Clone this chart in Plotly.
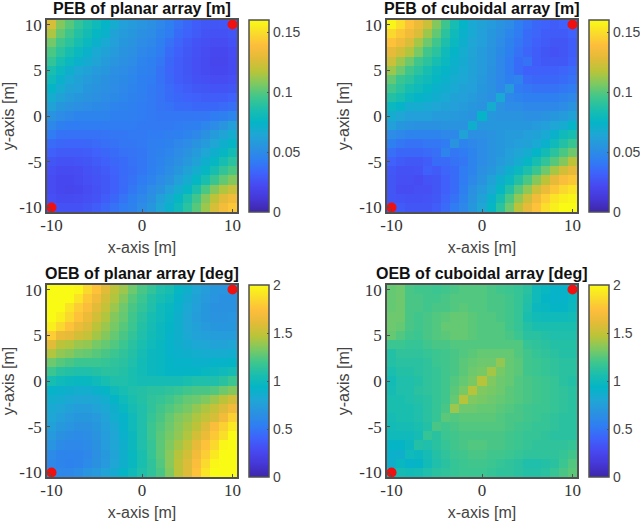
import plotly.graph_objects as go

grid = [-10,-9,-8,-7,-6,-5,-4,-3,-2,-1,0,1,2,3,4,5,6,7,8,9,10]
y_rows = [10,9,8,7,6,5,4,3,2,1,0,-1,-2,-3,-4,-5,-6,-7,-8,-9,-10]
anchors_x = [-10, 10]
anchors_y = [-10, 10]

# Values in 0.001 m, rows from y=10 to y=-10
peb_planar = [
[125,108,100,92,86,80,74,68,60,58,55,52,48,44,38,34,30,28,27,28,31],
[115,102,95,88,82,76,72,62,58,56,52,50,46,42,36,32,29,26,25,25,27],
[105,96,90,84,78,72,66,60,56,54,50,48,44,38,33,29,26,24,23,23,25],
[98,90,84,78,72,66,62,58,54,52,48,46,42,36,31,28,25,23,21,21,23],
[92,84,78,72,67,63,58,55,52,50,46,44,40,34,30,27,24,22,20,20,22],
[85,78,70,65,62,58,56,52,50,48,45,43,38,33,30,27,24,22,21,21,22],
[80,72,66,62,58,56,53,51,49,47,44,42,38,34,30,28,25,24,23,23,24],
[74,68,62,60,56,54,52,50,48,46,44,41,39,35,32,30,28,27,26,26,27],
[68,62,58,56,54,52,50,49,47,45,43,41,39,36,34,32,31,30,30,30,32],
[62,56,54,52,50,49,48,46,45,44,42,41,39,38,36,35,34,34,34,35,37],
[54,50,48,46,46,46,46,44,44,43,42,41,40,40,40,40,40,40,42,44,47],
[48,44,42,42,42,42,42,42,42,42,41,41,41,41,42,43,44,47,50,55,60],
[42,38,38,38,38,38,39,40,40,41,41,42,42,43,44,46,48,53,58,63,68],
[36,34,33,33,34,35,37,38,40,40,41,43,44,45,48,50,54,58,64,70,75],
[31,29,29,29,30,32,34,36,38,39,40,43,45,47,50,54,58,64,70,76,82],
[27,25,25,26,27,29,31,34,36,38,40,43,46,49,52,57,62,70,76,84,90],
[24,22,22,23,25,27,29,32,36,37,40,44,47,51,56,62,68,76,84,92,98],
[23,21,21,22,24,26,28,31,35,38,42,46,50,54,60,68,76,85,94,102,108],
[23,21,20,21,23,25,28,31,36,40,45,50,54,60,68,76,86,98,108,116,122],
[24,22,22,23,24,26,30,34,39,44,48,53,60,68,76,86,96,108,118,128,134],
[28,25,25,25,27,30,34,38,42,45,50,56,64,72,80,90,100,112,125,135,142],
]
peb_cuboidal = [
[158,150,140,132,122,108,95,84,74,66,62,58,54,50,44,38,34,32,30,32,36],
[148,142,134,126,112,102,90,80,72,66,60,56,52,47,42,36,33,30,29,29,32],
[140,134,126,114,104,96,86,78,70,64,60,55,50,45,40,35,31,29,27,27,30],
[130,124,116,106,96,90,80,74,68,63,58,54,49,44,38,33,30,27,25,27,30],
[122,112,104,96,90,84,78,72,67,62,58,54,48,42,36,38,30,28,28,28,31],
[112,104,96,90,84,78,74,70,66,62,58,53,48,42,36,31,31,31,31,33,35],
[102,94,90,84,80,76,72,68,65,61,57,52,48,44,46,35,34,34,34,36,38],
[96,90,84,80,76,72,69,66,62,60,56,53,48,58,42,40,38,38,38,40,42],
[88,84,78,74,72,69,66,62,60,58,55,52,66,48,46,44,44,44,44,46,48],
[78,74,68,68,66,64,62,60,58,56,54,68,54,50,50,48,48,48,48,50,54],
[68,64,60,60,60,58,58,57,56,54,74,56,54,54,54,52,52,54,56,58,62],
[60,56,54,53,53,53,54,54,54,70,56,56,56,56,56,56,58,60,64,68,74],
[50,48,46,46,46,46,48,48,62,52,52,54,56,58,58,60,62,66,72,80,84],
[44,40,38,38,40,40,42,54,46,48,50,54,56,58,60,62,66,72,80,88,94],
[37,34,34,34,35,37,46,40,42,46,50,54,56,60,64,68,74,82,90,98,104],
[32,29,28,28,30,36,35,38,40,46,50,54,58,62,68,76,84,92,100,108,118],
[28,25,25,26,31,29,33,36,42,46,52,56,62,70,78,86,94,104,114,124,130],
[27,24,24,23,26,27,31,36,42,48,54,62,70,78,88,98,108,118,130,138,142],
[27,23,23,24,24,27,31,36,44,52,58,66,76,88,100,110,122,132,142,148,152],
[27,26,25,25,26,28,33,38,46,54,62,72,84,98,110,122,134,144,152,156,158],
[29,29,27,27,27,30,35,42,48,56,64,76,90,104,118,130,140,150,156,160,160],
]
# Values in 0.01 deg
oeb_planar = [
[200,200,200,198,185,175,160,148,140,130,122,115,108,105,95,88,80,74,70,68,68],
[200,200,200,190,178,168,155,145,135,125,118,110,105,100,92,84,77,72,68,66,66],
[200,200,190,180,172,160,150,140,130,122,115,108,100,96,90,82,75,70,66,66,66],
[200,195,185,175,165,155,145,135,128,120,112,105,100,95,88,80,74,70,67,67,68],
[195,185,175,165,158,148,140,132,125,118,110,104,98,94,88,80,76,72,70,69,70],
[180,165,162,155,150,142,135,128,122,115,108,102,98,92,88,82,78,75,74,74,74],
[160,148,145,140,138,132,128,124,118,112,106,100,96,92,88,84,81,80,78,78,80],
[145,138,135,130,128,125,122,118,114,110,104,98,96,92,90,88,86,85,85,85,86],
[130,125,122,118,118,118,116,114,112,108,102,98,96,94,92,92,90,90,92,92,94],
[118,112,110,108,108,110,112,112,110,106,102,98,96,94,94,94,94,96,98,100,104],
[105,100,98,96,96,100,105,108,108,106,104,104,104,104,104,106,108,108,108,112,118],
[92,90,88,86,86,90,94,100,105,108,110,112,112,114,116,120,122,122,124,130,135],
[86,85,82,80,80,82,86,94,100,106,110,114,116,120,124,128,130,134,140,148,155],
[83,80,76,74,74,78,82,88,96,104,108,114,120,124,128,132,138,144,150,158,168],
[80,75,72,70,70,72,78,86,92,100,108,116,122,128,134,138,144,150,156,168,182],
[76,71,68,66,66,70,75,82,92,100,108,118,124,130,136,142,148,158,172,182,192],
[72,66,64,62,64,67,73,80,90,98,108,118,126,132,138,145,155,165,178,188,200],
[68,62,60,60,62,66,73,80,88,98,108,116,126,134,142,150,162,175,185,198,200],
[62,58,58,58,60,65,71,78,88,96,106,116,126,136,146,155,168,180,192,200,200],
[60,58,56,58,61,66,72,80,88,96,106,114,124,136,148,158,172,186,198,200,200],
[60,60,60,63,68,72,78,84,94,100,108,114,122,134,148,158,175,190,200,200,200],
]
oeb_cuboidal = [
[128,130,122,120,120,118,120,122,124,124,124,122,120,118,116,112,100,96,92,92,98],
[128,130,122,122,120,120,122,124,124,124,124,122,122,120,116,110,100,94,92,92,96],
[128,130,122,122,120,122,122,124,126,124,124,122,122,120,116,108,98,96,94,94,98],
[130,130,122,120,122,124,126,128,128,126,124,124,122,120,116,106,102,100,100,100,102],
[130,128,122,120,122,124,128,128,128,126,124,124,124,120,116,110,106,106,106,106,106],
[128,124,120,118,122,124,126,128,128,126,124,124,124,122,118,112,112,110,108,108,108],
[118,118,116,116,120,122,122,124,124,124,124,124,124,124,124,116,114,112,110,110,110],
[110,114,114,114,116,118,120,122,124,126,128,128,128,128,124,120,116,114,112,110,110],
[110,112,112,112,114,118,120,122,126,128,130,130,138,128,126,120,118,116,114,112,112],
[106,110,110,112,114,116,120,122,126,130,132,142,132,128,126,120,118,116,114,112,112],
[102,108,108,110,114,116,120,124,128,132,146,134,130,128,124,122,120,118,116,112,110],
[104,108,108,112,114,116,120,126,132,146,134,132,130,126,124,122,120,118,116,114,112],
[106,106,108,110,112,116,120,128,146,134,132,130,128,126,124,122,120,118,116,114,112],
[106,106,106,108,112,116,122,140,130,130,128,128,126,124,122,120,118,118,116,114,112],
[104,106,106,108,112,116,126,124,126,126,126,126,124,122,122,120,118,116,114,112,112],
[102,104,104,106,110,122,120,122,124,124,124,124,124,122,120,118,116,116,114,112,112],
[100,100,100,104,116,112,118,120,122,122,122,122,122,120,118,116,116,114,112,112,112],
[94,94,98,110,108,112,116,120,122,124,124,122,122,120,118,116,114,114,114,114,116],
[90,88,100,98,104,110,114,118,120,122,122,120,120,118,116,114,114,114,114,116,120],
[88,96,92,94,102,108,112,116,118,120,120,118,116,114,112,108,108,110,112,118,124],
[98,104,102,104,108,112,114,116,118,118,118,116,114,114,112,110,110,112,116,122,126],
]

titles = ["PEB of planar array [m]", "PEB of cuboidal array [m]",
          "OEB of planar array [deg]", "OEB of cuboidal array [deg]"]
peb_ticks = [0, 50, 100, 150]
peb_ticktext = ["0", "0.05", "0.1", "0.15"]
oeb_ticks = [0, 50, 100, 150, 200]
oeb_ticktext = ["0", "0.5", "1", "1.5", "2"]

parula = [
 [0.0, "#3e26a8"], [0.0667, "#4537d6"], [0.1333, "#4748f0"], [0.2, "#3e62fb"],
 [0.2667, "#2f7ef2"], [0.3333, "#2a92e0"], [0.4, "#1fa6d5"], [0.4667, "#04b5c6"],
 [0.5333, "#1bbeae"], [0.6, "#40c68c"], [0.6667, "#7dc962"], [0.7333, "#b9c439"],
 [0.8, "#e2bb38"], [0.8667, "#fdbd3c"], [0.9333, "#fadc2b"], [1.0, "#f9fb15"],
]

W, H = 640, 522
FRAME = "#505050"
TICK_FONT = dict(family="Liberation Serif", size=17, color="#333333")
LABEL_FONT = dict(family="Liberation Sans", size=16, color="#444444")
CB_FONT = dict(family="Liberation Sans", size=14, color="#444444")

# (left, right, top, bottom) in pixels
panels = [(47, 237, 20, 212), (387, 577, 20, 212), (47, 237, 285, 477), (387, 577, 285, 477)]
datasets = [peb_planar, peb_cuboidal, oeb_planar, oeb_cuboidal]
zmaxes = [160, 160, 200, 200]
ticksets = [(peb_ticks, peb_ticktext), (peb_ticks, peb_ticktext), (oeb_ticks, oeb_ticktext), (oeb_ticks, oeb_ticktext)]

fig = go.Figure()
layout = dict(width=W, height=H, margin=dict(l=0, r=0, t=0, b=0, autoexpand=False),
              paper_bgcolor="white", plot_bgcolor="white", showlegend=False,
              annotations=[])

for i, (l, r, t, b) in enumerate(panels):
    sfx = "" if i == 0 else str(i + 1)
    fig.add_trace(go.Heatmap(
        x=grid, y=y_rows, z=datasets[i], xaxis="x" + sfx, yaxis="y" + sfx,
        colorscale=parula, zmin=0, zmax=zmaxes[i], zsmooth=False, hoverinfo="skip",
        colorbar=dict(
            x=(r + 12) / W, xanchor="left", xpad=0, ypad=0,
            y=1 - b / H, yanchor="bottom", len=(b - t) / H, lenmode="fraction",
            thickness=20, thicknessmode="pixels",
            outlinecolor=FRAME, outlinewidth=1.5,
            tickmode="array", tickvals=ticksets[i][0], ticktext=ticksets[i][1],
            ticks="inside", ticklen=2, tickcolor=FRAME, tickfont=CB_FONT,
        )))
    fig.add_trace(go.Scatter(
        x=anchors_x, y=anchors_y, mode="markers", xaxis="x" + sfx, yaxis="y" + sfx,
        marker=dict(color="#f01010", size=10), hoverinfo="skip", cliponaxis=False))
    common = dict(showgrid=False, zeroline=False, mirror=True, showline=True, automargin=False,
                  linecolor=FRAME, linewidth=1.5, ticks="inside", ticklen=3,
                  tickcolor=FRAME, tickfont=TICK_FONT, range=[-10.5, 10.5])
    layout["xaxis" + sfx] = dict(common, domain=[l / W, r / W], anchor="y" + sfx,
                                 tickmode="array", tickvals=[-10, 0, 10],
                                 ticktext=["-10", "0", "10"], ticklabelstandoff=-3,
                                 title=dict(text="x-axis [m]", font=LABEL_FONT, standoff=8))
    layout["yaxis" + sfx] = dict(common, domain=[1 - b / H, 1 - t / H], anchor="x" + sfx,
                                 tickmode="array", tickvals=[-10, -5, 0, 5, 10],
                                 ticktext=["-10", "-5", "0", "5", "10"],
                                 title=dict(text="y-axis [m]", font=LABEL_FONT, standoff=6))
    layout["annotations"].append(dict(
        text="<b>" + titles[i] + "</b>", xref="paper", yref="paper",
        x=(l + r) / 2 / W, y=1 - (t - 1) / H, xanchor="center", yanchor="bottom",
        showarrow=False, font=dict(family="Liberation Sans", size=16, color="#111111")))

fig.update_layout(**layout)
fig.write_html("out.html", config=dict(displayModeBar=False),
               post_script="document.body.style.margin='0';document.documentElement.style.overflow='hidden';")
